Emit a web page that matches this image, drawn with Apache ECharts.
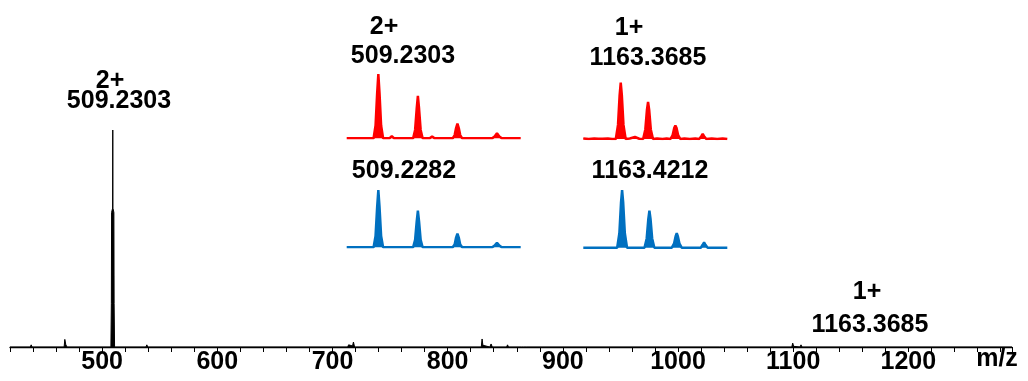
<!DOCTYPE html>
<html>
<head>
<meta charset="utf-8">
<script src="https://cdn.jsdelivr.net/npm/echarts@6/dist/echarts.min.js"></script>
<style>
html,body{margin:0;padding:0;background:#fff;}
#chart{width:1028px;height:381px;}
</style>
</head>
<body>
<div id="chart"></div>
<script>
// ---- data ----
var xTickValues = [500, 600, 700, 800, 900, 1000, 1100, 1200];
var axisName = 'm/z';

// main spectrum: [m/z, relative intensity]
var mainSpectrum = [
  [420,0],[437.6,0],[438.4,1],[439.2,0],
  [467.0,0],[467.6,3.5],[468.4,1.2],[469.4,0],
  [507.6,0],[508.0,20],[508.2,62],[509.1,64],[509.23,100],[509.35,64],[510.2,62],[510.4,20],[510.8,0],
  [538.0,0],[538.8,1],[539.6,0],
  [713.2,0],[714.0,1],[714.8,0.3],[717.4,0.5],[718.2,2.3],[719.2,0],
  [829.2,0],[829.9,3.7],[830.6,0.8],[832.0,0],[836.6,0],[837.7,1.4],[838.8,0],
  [851.2,0],[852.0,1],[852.8,0],
  [864.2,0],[865.0,0.8],[866.0,0],[868.2,0],[869.0,0.8],[869.8,0],
  [1035.8,0],[1036.5,0.5],[1037.2,0],
  [1098.8,0],[1099.6,1.8],[1100.4,0.3],[1106.0,0],[1106.8,1],[1107.6,0],
  [1164.0,0],[1164.7,0.9],[1165.4,0],
  [1290,0]
];

// inset: 2+ experimental (red)
var inset2Exp = [
  [508.83,0],
  [509.17,0],[509.195,20],[509.215,70],[509.23,100],[509.245,70],[509.265,20],[509.29,0],
  [509.37,0],[509.40,3.5],[509.43,0],
  [509.67,0],[509.695,13],[509.715,46],[509.73,66],[509.745,46],[509.765,13],[509.79,0],
  [509.88,0],[509.91,3],[509.94,0],
  [510.17,0],[510.195,5],[510.213,16],[510.23,23],[510.247,16],[510.265,5],[510.29,0],
  [510.67,0],[510.70,3],[510.73,8],[510.76,3],[510.79,0],
  [511.03,0]
];
// inset: 2+ theoretical (blue)
var inset2Theo = [
  [508.83,0],
  [509.17,0],[509.195,20],[509.215,70],[509.23,100],[509.245,70],[509.265,20],[509.29,0],
  [509.67,0],[509.695,13],[509.715,45],[509.73,64],[509.745,45],[509.765,13],[509.79,0],
  [510.17,0],[510.195,5],[510.213,17],[510.23,24],[510.247,17],[510.265,5],[510.29,0],
  [510.67,0],[510.70,3],[510.73,8],[510.76,3],[510.79,0],
  [511.03,0]
];
// inset: 1+ experimental (red)
var inset1Exp = [
  [1162.0,1],[1162.2,0],[1162.4,1],[1162.55,0.5],[1162.62,4],[1162.7,0.5],[1162.9,1],[1163.05,0],
  [1163.19,0],[1163.27,25],[1163.33,78],[1163.37,100],[1163.41,78],[1163.47,25],[1163.55,0],
  [1163.7,1],[1163.89,3.5],[1164.05,0.5],
  [1164.19,0],[1164.27,17],[1164.33,52],[1164.37,66],[1164.41,52],[1164.47,17],[1164.55,0],
  [1164.7,1],[1164.9,0],[1165.05,1],
  [1165.19,0],[1165.27,7],[1165.33,20],[1165.37,24],[1165.41,20],[1165.47,7],[1165.55,0],
  [1165.7,1],[1165.9,0],[1166.1,1],
  [1166.24,0],[1166.32,5],[1166.37,9],[1166.42,5],[1166.5,0],
  [1166.7,1],[1166.9,0],[1167.1,1],[1167.27,0]
];
// inset: 1+ theoretical (blue)
var inset1Theo = [
  [1162.0,0],
  [1163.24,0],[1163.32,25],[1163.38,78],[1163.42,100],[1163.46,78],[1163.52,25],[1163.60,0],
  [1164.24,0],[1164.32,16],[1164.38,50],[1164.42,64],[1164.46,50],[1164.52,16],[1164.60,0],
  [1165.24,0],[1165.32,7],[1165.38,20],[1165.42,25],[1165.46,20],[1165.52,7],[1165.60,0],
  [1166.3,0],[1166.37,5],[1166.42,9],[1166.47,5],[1166.55,0],
  [1167.27,0]
];

var mainLabels = ['2+', '509.2303', '1+', '1163.3685'];
var insetLabels = ['2+', '509.2303', '509.2282', '1+', '1163.3685', '1163.4212'];

// ---- chart ----
var RED = '#ff0000';
var BLUE = '#0070c0';
var FONT = 'bold 25px "Liberation Sans", Arial, sans-serif';

function hiddenX(idx, min, max) {
  return {gridIndex: idx, type: 'value', min: min, max: max, show: false};
}
function hiddenY(idx) {
  return {gridIndex: idx, type: 'value', min: 0, max: 100, show: false};
}
function insetSeries(idx, data, color) {
  return {
    type: 'line', xAxisIndex: idx, yAxisIndex: idx, data: data,
    showSymbol: false, symbol: 'none', smooth: false,
    lineStyle: {color: color, width: 2.5},
    areaStyle: {color: color, opacity: 1},
    silent: true
  };
}
function txt(t, x, y) {
  return {type: 'text', x: x, y: y, silent: true,
    style: {text: t, font: FONT, fill: '#000', textAlign: 'center', textVerticalAlign: 'middle'}};
}

var option = {
  animation: false,
  backgroundColor: '#fff',
  grid: [
    {left: 10, right: 16, top: 130, bottom: 34},
    {left: 346.7, width: 174, top: 74, height: 64.3},
    {left: 346.7, width: 174, top: 190, height: 57.3},
    {left: 583.3, width: 144, top: 82.7, height: 56.3},
    {left: 583.3, width: 144, top: 190, height: 57.7}
  ],
  xAxis: [
    {
      gridIndex: 0, type: 'value', min: 420, max: 1290, interval: 20,
      axisLine: {show: true, onZero: false, lineStyle: {color: '#000', width: 1.3}},
      axisTick: {show: true, length: 5, lineStyle: {color: '#000', width: 1}},
      splitLine: {show: false},
      axisLabel: {
        show: true, margin: 3, color: '#000', fontWeight: 'bold', fontSize: 25,
        fontFamily: '"Liberation Sans", Arial, sans-serif',
        formatter: function (v) { return xTickValues.indexOf(v) >= 0 ? String(v) : ''; }
      }
    },
    hiddenX(1, 508.83, 511.03),
    hiddenX(2, 508.83, 511.03),
    hiddenX(3, 1162.0, 1167.27),
    hiddenX(4, 1162.0, 1167.27)
  ],
  yAxis: [
    hiddenY(0), hiddenY(1), hiddenY(2), hiddenY(3), hiddenY(4)
  ],
  series: [
    {
      type: 'line', xAxisIndex: 0, yAxisIndex: 0, data: mainSpectrum,
      showSymbol: false, symbol: 'none',
      lineStyle: {color: '#000', width: 1},
      areaStyle: {color: '#000', opacity: 1},
      silent: true
    },
    insetSeries(1, inset2Exp, RED),
    insetSeries(2, inset2Theo, BLUE),
    insetSeries(3, inset1Exp, RED),
    insetSeries(4, inset1Theo, BLUE)
  ],
  graphic: [
    txt(mainLabels[0], 110, 81),
    txt(mainLabels[1], 119, 101),
    txt(mainLabels[2], 867, 292),
    txt(mainLabels[3], 870, 325),
    txt(insetLabels[0], 384, 27),
    txt(insetLabels[1], 403, 56),
    txt(insetLabels[2], 404, 171),
    txt(insetLabels[3], 629, 28),
    txt(insetLabels[4], 648, 58),
    txt(insetLabels[5], 650, 171),
    txt(axisName, 997, 359)
  ]
};

var chart = echarts.init(document.getElementById('chart'), null, {renderer: 'canvas'});
chart.setOption(option);
</script>
</body>
</html>
